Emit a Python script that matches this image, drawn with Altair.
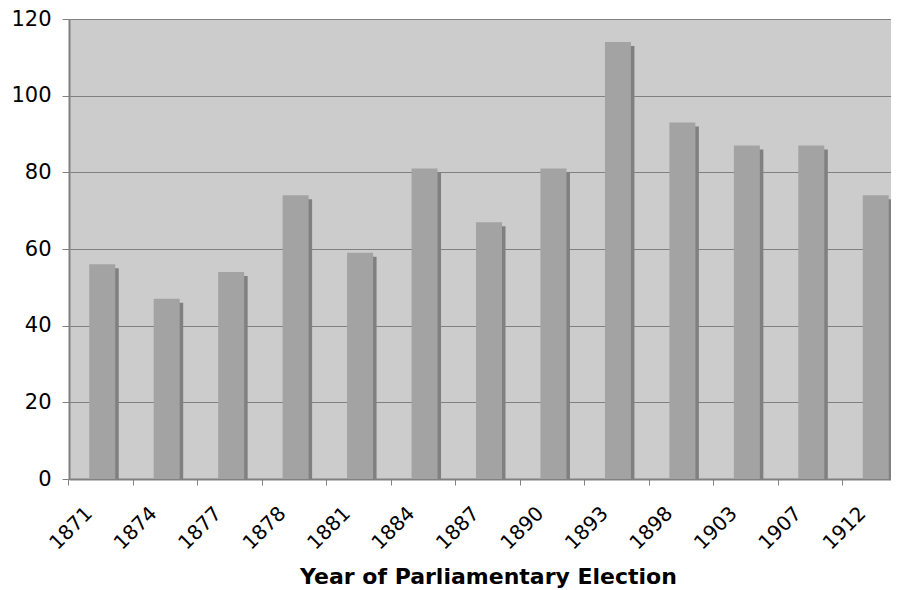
import altair as alt
import pandas as pd

years = ["1871", "1874", "1877", "1878", "1881", "1884", "1887", "1890", "1893", "1898", "1903", "1907", "1912"]
values = [56, 47, 54, 74, 59, 81, 67, 81, 114, 93, 87, 87, 74]

df = pd.DataFrame({"year": years, "value": values})

FONT = "DejaVu Sans"

x_enc = alt.X(
    "year:N",
    sort=years,
    scale=alt.Scale(range=[0, 838], paddingInner=0, paddingOuter=0),
    axis=alt.Axis(
        title="Year of Parliamentary Election",
        bandPosition=0,
        labelAngle=-45,
        labelAlign="right",
        labelBaseline="top",
        labelOffset=-19,
        labelPadding=18,
        labelFontSize=20,
        labelColor="#000000",
        labelFont=FONT,
        tickSize=6,
        tickColor="#808080",
        domainColor="#808080",
        domainWidth=2,
        titleFont=FONT,
        titleFontSize=22,
        titleFontWeight="bold",
        titleColor="#000000",
        titleY=104,
        titleX=419,
        titleBaseline="alphabetic",
        grid=False,
    ),
)

y_enc = alt.Y(
    "value:Q",
    scale=alt.Scale(domain=[0, 120], nice=False),
    stack=None,
    axis=alt.Axis(
        title=None,
        values=[0, 20, 40, 60, 80, 100, 120],
        labelFontSize=21,
        labelFont=FONT,
        labelColor="#000000",
        labelPadding=11,
        tickSize=7,
        tickColor="#808080",
        domainColor="#808080",
        domainWidth=2,
        grid=True,
        gridColor="#808080",
        gridWidth=1.2,
    ),
)

shadow = alt.Chart(df).mark_bar(
    width=5, xOffset=15, yOffset=4, y2Offset=0, color="#808080"
).encode(x=x_enc, y=y_enc, y2=alt.datum(0))

front = alt.Chart(df).mark_bar(
    width=26, xOffset=1, color="#a3a3a3"
).encode(x=x_enc, y=y_enc)

chart = alt.layer(shadow, front).properties(
    width=822,
    height=460,
    padding={"left": 61, "top": 11, "right": 0, "bottom": 110},
    autosize=alt.AutoSizeParams(type="none"),
    background="#ffffff",
).configure_view(fill="#cccccc", stroke=None)

chart.save("out.html", embed_options={"renderer": "svg", "actions": False})
